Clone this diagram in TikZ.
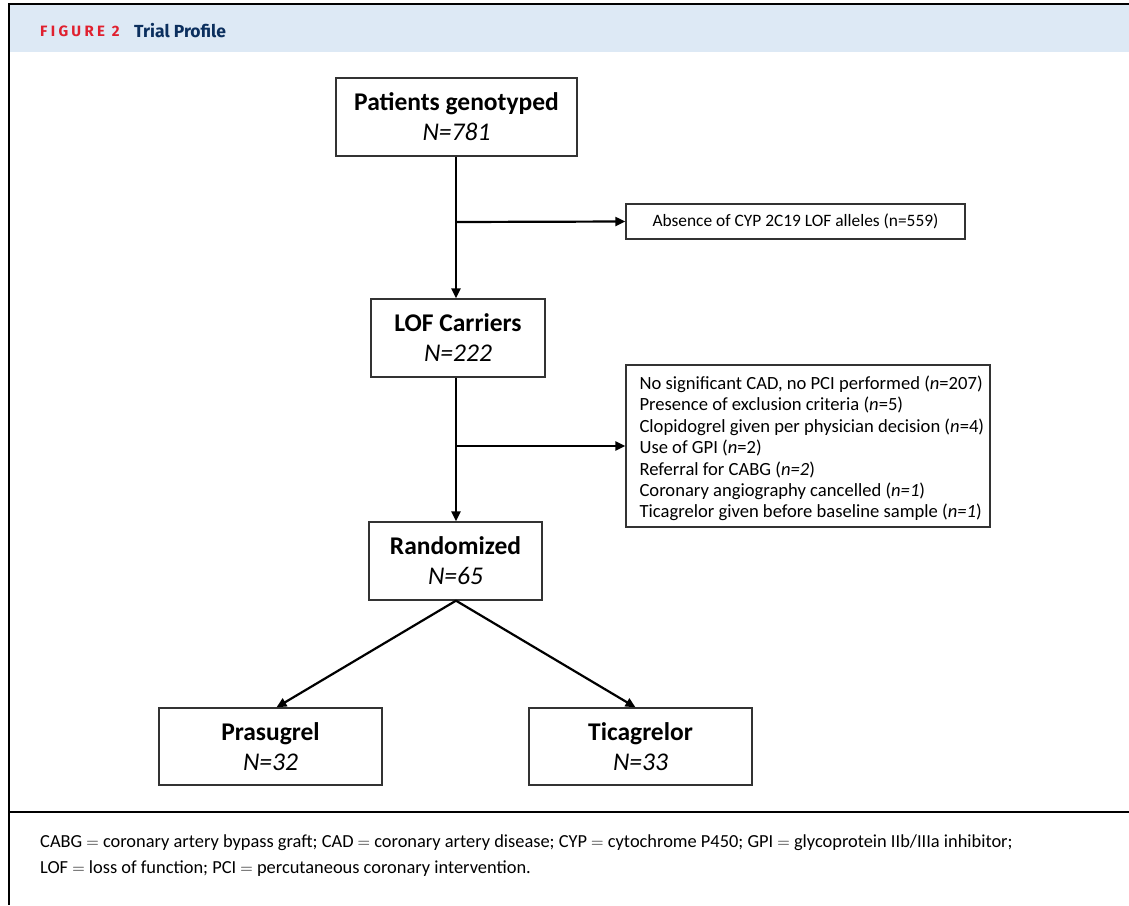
\documentclass[tikz,border=0pt]{standalone}
\usepackage{fontspec}
\setmainfont{Carlito}
\newfontfamily\hdrfont{Fira Sans}
\usetikzlibrary{arrows.meta,calc}
\definecolor{hdrbg}{HTML}{DDE9F5}
\definecolor{figred}{HTML}{E0202F}
\definecolor{navy}{HTML}{0B2F5E}
\definecolor{boxline}{HTML}{333333}
\tikzset{
  mainbox/.style={draw=boxline,line width=1.3pt,align=center,inner sep=0pt,font=\fontsize{25.5}{30}\selectfont},
  sidebox/.style={draw=boxline,line width=1.3pt,inner sep=0pt},
  flow/.style={line width=2.2pt,-{Triangle[length=10pt,width=9pt]}},
  frame/.style={line width=1.8pt,black}
}
\begin{document}
\begin{tikzpicture}[x=1pt,y=-1pt]
\useasboundingbox (0,0) rectangle (1129,905);
\fill[white] (0,0) rectangle (1129,905);
% header
\fill[hdrbg] (9,5) rectangle (1129,52);
\draw[frame] (8,4) -- (1129,4);
\draw[frame] (9,4) -- (9,905);
\draw[frame] (9,812) -- (1129,812);
\node[anchor=west,inner sep=0pt,text=figred,font=\hdrfont\fontsize{15}{16}\selectfont\bfseries] (fig) at (40,31.5) {\addfontfeature{LetterSpace=22}FIGURE 2};
\node[anchor=west,inner sep=0pt,text=navy,font=\hdrfont\fontsize{17.5}{19}\selectfont\bfseries] (ttl) at (134,31) {Trial Profile};
% boxes
\node[mainbox,minimum width=241pt,minimum height=78pt] (gen) at (456.5,117) {\textbf{Patients genotyped}\\\textit{N=781}};
\node[sidebox,minimum width=339pt,minimum height=35pt,font=\fontsize{17.4}{19}\selectfont] (abs) at (795.5,221.5) {Absence of CYP 2C19 LOF alleles (n=559)};
\node[mainbox,minimum width=174pt,minimum height=78pt] (lof) at (458,338) {\textbf{LOF Carriers}\\\textit{N=222}};
\node[sidebox,minimum width=364pt,minimum height=162pt] (exc) at (808,446) {};
\node[anchor=west,inner sep=0pt,align=left,font=\fontsize{18.6}{21.4}\selectfont] (exct) at ($(exc.west)+(14,2.5)$) {%
No significant CAD, no PCI performed (\textit{n}=207)\\
Presence of exclusion criteria (\textit{n}=5)\\
Clopidogrel given per physician decision (\textit{n}=4)\\
Use of GPI (\textit{n}=2)\\
Referral for CABG (\textit{n=2})\\
Coronary angiography cancelled (\textit{n=1})\\
Ticagrelor given before baseline sample (\textit{n=1})};
\node[mainbox,minimum width=173pt,minimum height=78pt] (ran) at (455.5,561) {\textbf{Randomized}\\\textit{N=65}};
\node[mainbox,minimum width=223pt,minimum height=77pt] (pra) at (270.5,746.5) {\textbf{Prasugrel}\\\textit{N=32}};
\node[mainbox,minimum width=223pt,minimum height=77pt] (tic) at (640.5,746.5) {\textbf{Ticagrelor}\\\textit{N=33}};
% connectors
\coordinate (b1) at (456,222);
\coordinate (b2) at (456,446);
\draw[flow] (gen.south -| b1) -- (lof.north -| b1);
\draw[flow] (b1) -- (abs.west);
\draw[flow] (lof.south -| b2) -- (ran.north -| b2);
\draw[flow] (b2) -- (exc.west);
\draw[flow] (ran.south -| b2) -- ($(pra.north)+(6,0)$);
\draw[flow] (ran.south -| b2) -- ($(tic.north)+(-5,0)$);
% footer
\node[anchor=west,inner sep=0pt,font=\fontsize{18.4}{20}\selectfont] (f1) at (40,843) {CABG $=$ coronary artery bypass graft; CAD $=$ coronary artery disease; CYP $=$ cytochrome P450; GPI $=$ glycoprotein IIb/IIIa inhibitor;};
\node[anchor=west,inner sep=0pt,font=\fontsize{18.4}{20}\selectfont] (f2) at (40,869) {LOF $=$ loss of function; PCI $=$ percutaneous coronary intervention.};
\end{tikzpicture}
\end{document}
